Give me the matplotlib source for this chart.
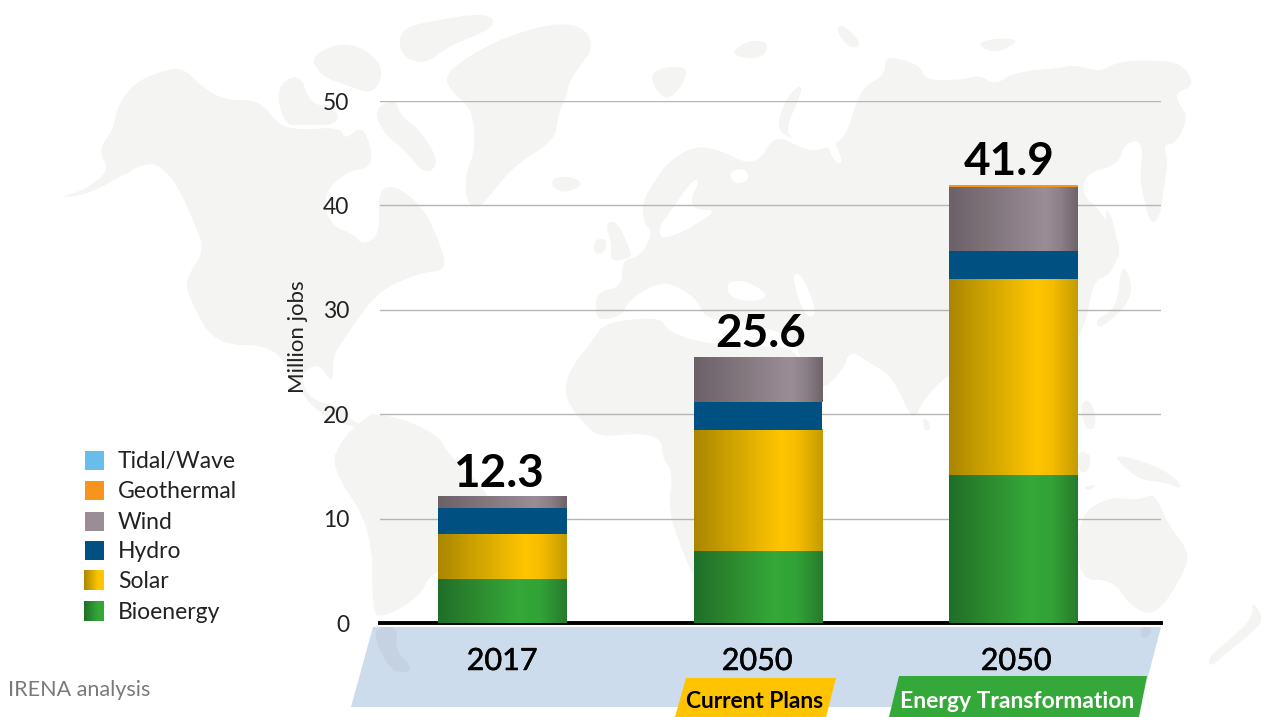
import numpy as np
import matplotlib
matplotlib.use('Agg')
import matplotlib.pyplot as plt
import matplotlib.patheffects as pe
from matplotlib.colors import LinearSegmentedColormap
from matplotlib.patches import Polygon, Rectangle

plt.rcParams['font.family'] = ['Lato', 'DejaVu Sans']

# data
years = ['2017', '2050', '2050']
totals = ['12.3', '25.6', '41.9']
bioenergy = [4.2, 6.9, 14.2]
solar = [4.3, 11.6, 18.75]
hydro = [2.5, 2.7, 2.7]
wind = [1.07, 4.3, 6.1]
geothermal = [0.0, 0.0, 0.2]
tidal = [0.0, 0.0, 0.0]
legend_names = ['Tidal/Wave', 'Geothermal', 'Wind', 'Hydro', 'Solar', 'Bioenergy']

# gradient stops, left edge -> highlight -> right edge
grad_bio = [(0, '#1f6e29'), (0.25, '#2b852d'), (0.62, '#34a838'), (0.8, '#32a236'), (1, '#277a2c')]
grad_solar = [(0, '#ab8600'), (0.3, '#cfa400'), (0.68, '#ffc500'), (0.8, '#f6bd00'), (1, '#c39c00')]
grad_wind = [(0, '#6c6168'), (0.35, '#82767d'), (0.75, '#9a8d96'), (0.87, '#8c8088'), (1, '#6f6369')]

# background map, rough outlines in pixels
land = [
    # north america
    [(57, 198), (85, 190), (110, 170), (98, 150), (113, 130), (118, 105), (135, 82), (165, 70), (183, 68), (200, 85),
     (223, 100), (260, 100), (278, 125), (300, 130), (340, 127), (345, 140), (362, 125), (372, 150), (370, 168),
     (345, 172), (323, 195), (330, 225), (355, 235), (362, 245), (380, 235), (378, 190), (395, 185), (423, 207),
     (440, 243), (447, 270), (420, 273), (387, 287), (372, 300), (357, 320), (340, 345), (333, 357), (333, 385),
     (318, 362), (300, 375), (310, 400), (345, 408), (352, 422), (372, 428), (355, 428), (320, 415), (295, 385),
     (275, 345), (215, 345), (190, 300), (185, 280), (205, 250), (195, 225), (182, 195), (170, 175), (150, 160),
     (115, 180), (85, 195)],
    # baffin and arctic islands
    [(373, 110), (395, 98), (400, 115), (420, 130), (440, 163), (425, 175), (405, 150), (385, 135)],
    [(275, 88), (300, 72), (310, 105), (335, 105), (340, 125), (300, 125), (285, 125)],
    [(310, 55), (350, 40), (385, 65), (375, 95), (345, 85), (320, 75)],
    [(400, 30), (425, 22), (490, 12), (495, 28), (450, 45), (425, 65), (400, 55)],
    # greenland
    [(445, 75), (470, 55), (510, 35), (560, 22), (588, 30), (592, 50), (583, 62), (570, 80), (565, 100), (558, 115),
     (555, 140), (515, 165), (490, 195), (480, 207), (470, 207), (465, 190), (467, 170), (475, 150), (473, 110), (450, 90)],
    # iceland, uk, arctic russia
    [(552, 178), (572, 176), (584, 185), (565, 193), (553, 188)],
    [(605, 222), (618, 222), (630, 250), (632, 258), (610, 262), (612, 245)],
    [(594, 240), (606, 238), (606, 252), (594, 255)],
    [(650, 70), (688, 65), (683, 85), (668, 100), (655, 90)],
    [(728, 55), (748, 40), (770, 42), (762, 60)],
    [(835, 28), (845, 25), (863, 46), (848, 48)],
    [(978, 42), (1000, 38), (1020, 40), (1000, 52), (985, 50)],
    [(776, 130), (785, 100), (800, 84), (802, 92), (785, 130), (795, 140)],
    # eurasia
    [(642, 203), (655, 180), (670, 160), (695, 146), (720, 150), (745, 163), (760, 160), (775, 135), (800, 147),
     (815, 152), (845, 140), (857, 100), (866, 85), (885, 75), (885, 57), (905, 60), (921, 67), (925, 80), (960, 80),
     (980, 75), (995, 85), (1015, 72), (1060, 68), (1075, 65), (1100, 72), (1117, 62), (1150, 60), (1182, 63),
     (1195, 85), (1175, 93), (1180, 105), (1188, 117), (1177, 143), (1163, 145), (1168, 160), (1164, 187), (1160, 217),
     (1150, 225), (1142, 190), (1140, 178), (1143, 140), (1125, 143), (1118, 165), (1086, 173), (1082, 195), (1100, 210),
     (1115, 235), (1121, 250), (1110, 275), (1095, 280), (1090, 300), (1086, 320), (1075, 345), (1050, 375), (1000, 395),
     (960, 375), (947, 375), (923, 400), (913, 423), (893, 377), (870, 363), (850, 350), (843, 370), (820, 393),
     (800, 360), (796, 340), (760, 325), (730, 320), (705, 318), (697, 300), (683, 290), (668, 283), (655, 285),
     (640, 293), (628, 302), (622, 315), (605, 320), (596, 317), (596, 292), (622, 287), (622, 260), (640, 257),
     (653, 233), (644, 223)],
    # japan, sakhalin, philippines
    [(1121, 265), (1130, 275), (1132, 300), (1100, 330), (1095, 320), (1117, 308)],
    [(1104, 208), (1112, 215), (1121, 262), (1112, 250)],
    [(1080, 402), (1092, 400), (1097, 428), (1085, 430)],
    # africa
    [(605, 322), (661, 317), (666, 330), (700, 343), (757, 347), (796, 347), (815, 390), (825, 400), (760, 560),
     (700, 590), (683, 553), (668, 510), (673, 473), (662, 457), (662, 440), (643, 433), (600, 437), (587, 427),
     (565, 400), (567, 373), (593, 340)],
    # south america
    [(367, 417), (373, 413), (407, 420), (440, 437), (447, 453), (493, 497), (490, 530), (440, 570), (427, 580),
     (423, 590), (410, 603), (383, 617), (372, 613), (372, 527), (330, 467), (343, 437)],
    # oceania
    [(1078, 517), (1107, 497), (1140, 500), (1155, 493), (1167, 523), (1188, 550), (1187, 567), (1163, 607), (1147, 615),
     (1128, 603), (1113, 580), (1078, 580)],
    [(1115, 455), (1140, 460), (1170, 473), (1185, 490), (1163, 482), (1140, 480), (1120, 463)],
    [(1252, 600), (1265, 620), (1247, 637), (1230, 650), (1210, 668), (1208, 657), (1233, 637), (1253, 617)],
    [(1078, 450), (1092, 455), (1088, 473), (1078, 472)],
    [(1083, 487), (1097, 484), (1090, 491)],
    [(923, 418), (928, 420), (931, 430), (924, 431)],
]
water = [
    [(692, 180), (700, 180), (690, 200), (696, 210), (718, 210), (687, 230), (661, 240), (659, 227), (668, 215)],
    [(726, 282), (745, 280), (770, 295), (755, 302), (730, 298)],
    [(791, 275), (802, 273), (818, 315), (805, 318)],
    [(817, 115), (828, 125), (844, 163), (835, 163), (825, 140)],
    [(728, 172), (745, 168), (750, 180), (735, 185)],
]
land_on_band = [
    [(377, 627), (398, 627), (395, 650), (411, 666), (408, 673), (390, 670), (375, 640)],
    [(1140, 627), (1152, 627), (1150, 635), (1142, 640)],
]


def gradient_cmap(stops):
    return LinearSegmentedColormap.from_list('g', stops)


def gradient_rect(ax, x0, x1, y0, y1, stops, z=3):
    g = np.linspace(0, 1, 256).reshape(1, -1)
    ax.imshow(g, extent=[x0, x1, y0, y1], aspect='auto', cmap=gradient_cmap(stops), vmin=0, vmax=1, zorder=z)


# round off the corners of the map outlines
def smooth(points, n=2):
    pts = np.array(points, dtype=float)
    for _ in range(n):
        nxt = np.roll(pts, -1, axis=0)
        pts = np.column_stack([0.75 * pts + 0.25 * nxt, 0.25 * pts + 0.75 * nxt]).reshape(-1, 2)
    return pts


W, H = 1271, 717
fig = plt.figure(figsize=(W / 100, H / 100), dpi=100)

# full figure axes in pixels for the map and the decorations
bg = fig.add_axes([0, 0, 1, 1], zorder=0)
for p in land:
    bg.add_patch(Polygon(smooth(p), closed=True, fc='#f4f4f2', ec='none'))
for p in water:
    bg.add_patch(Polygon(smooth(p), closed=True, fc='white', ec='none'))

bg.add_patch(Polygon([(373, 627), (1161, 627), (1140, 707), (351, 707)], closed=True, fc='#cddcec', ec='none', zorder=2))
for p in land_on_band:
    bg.add_patch(Polygon(smooth(p, 1), closed=True, fc='#c5d2e2', ec='none', zorder=2.5))
bg.add_patch(Polygon([(686, 678), (836, 678), (826, 717), (675, 717)], closed=True, fc='#ffc400', ec='none', zorder=3))
bg.add_patch(Polygon([(899, 676), (1147, 676), (1139, 717), (889, 717)], closed=True, fc='#34a838', ec='none', zorder=3))

thick = [pe.withStroke(linewidth=0.35, foreground='black')]
for x, s in zip([502, 757, 1016], years):
    bg.text(x, 661, s, fontsize=22, color='black', ha='center', va='center', zorder=4, path_effects=thick)
bg.text(755, 701, 'Current Plans', fontsize=16.4, fontweight='bold', color='black', ha='center', va='center', zorder=4)
bg.text(1017, 701, 'Energy Transformation', fontsize=16.5, fontweight='bold', color='white', ha='center', va='center', zorder=4)
bg.text(8, 690, 'IRENA analysis', fontsize=15.5, color='#7a7a7a', ha='left', va='center')

# legend
leg_y = [460, 490, 521, 550, 580, 611]
leg_col = ['#68bdea', '#f7941d', '#9a8d96', '#005082', None, None]
leg_grad = [None, None, None, None, [(0, '#ab8600'), (0.7, '#ffc500'), (1, '#ffc500')],
            [(0, '#1f6e29'), (0.7, '#34a838'), (1, '#34a838')]]
for y, name, c, gr in zip(leg_y, legend_names, leg_col, leg_grad):
    if gr is None:
        bg.add_patch(Rectangle((85, y - 9.5), 19, 19, fc=c, ec='none'))
    else:
        gradient_rect(bg, 84, 104, y + 10, y - 10, gr)
    bg.text(118, y + 1.5, name, fontsize=16.5, color='#222222', ha='left', va='center')

bg.set_xlim(0, W)
bg.set_ylim(H, 0)
bg.axis('off')

# main chart
ax = fig.add_axes([380 / W, 1 - 623 / H, 781 / W, 522 / H], zorder=1)
ax.patch.set_alpha(0)
x = np.arange(3)
bar_w = 0.503
xlim = (-0.479, 2.577)

bottom = np.zeros(3)
series = [(bioenergy, grad_bio, None), (solar, grad_solar, None), (hydro, None, '#005082'),
          (wind, grad_wind, None), (geothermal, None, '#f7941d'), (tidal, None, '#68bdea')]
for vals, stops, col in series:
    bars = ax.bar(x, vals, bar_w, bottom=bottom, color=col if col else 'none', zorder=3)
    if stops:
        for b in bars:
            gradient_rect(ax, b.get_x(), b.get_x() + b.get_width(), b.get_y(), b.get_y() + b.get_height(), stops)
    bottom = bottom + np.array(vals)

for xi, top, s, dx in zip(x, bottom, totals, [-3, 2, -3]):
    ax.annotate(s, (xi, top), xytext=(dx, 7), textcoords='offset points', ha='center', va='baseline',
                fontsize=33, fontweight='bold', color='black', zorder=5)

ax.set_xlim(*xlim)
ax.set_ylim(0, 50)
ax.set_yticks([0, 10, 20, 30, 40, 50])
ax.set_xticks([])
ax.tick_params(axis='y', length=0, labelsize=16.5, pad=22, labelcolor='#222222')
ax.grid(axis='y', color='#b5b5b5', lw=1.0, zorder=1)
ax.set_axisbelow(True)
for s in ['top', 'right', 'left']:
    ax.spines[s].set_visible(False)
ax.spines['bottom'].set_linewidth(2.8)
ax.spines['bottom'].set_color('black')
ax.spines['bottom'].set_zorder(2)
ax.set_ylabel('Million jobs', fontsize=16, color='#222222')
ax.yaxis.set_label_coords(-0.092, 0.548)

fig.savefig('out.png', dpi=100)
